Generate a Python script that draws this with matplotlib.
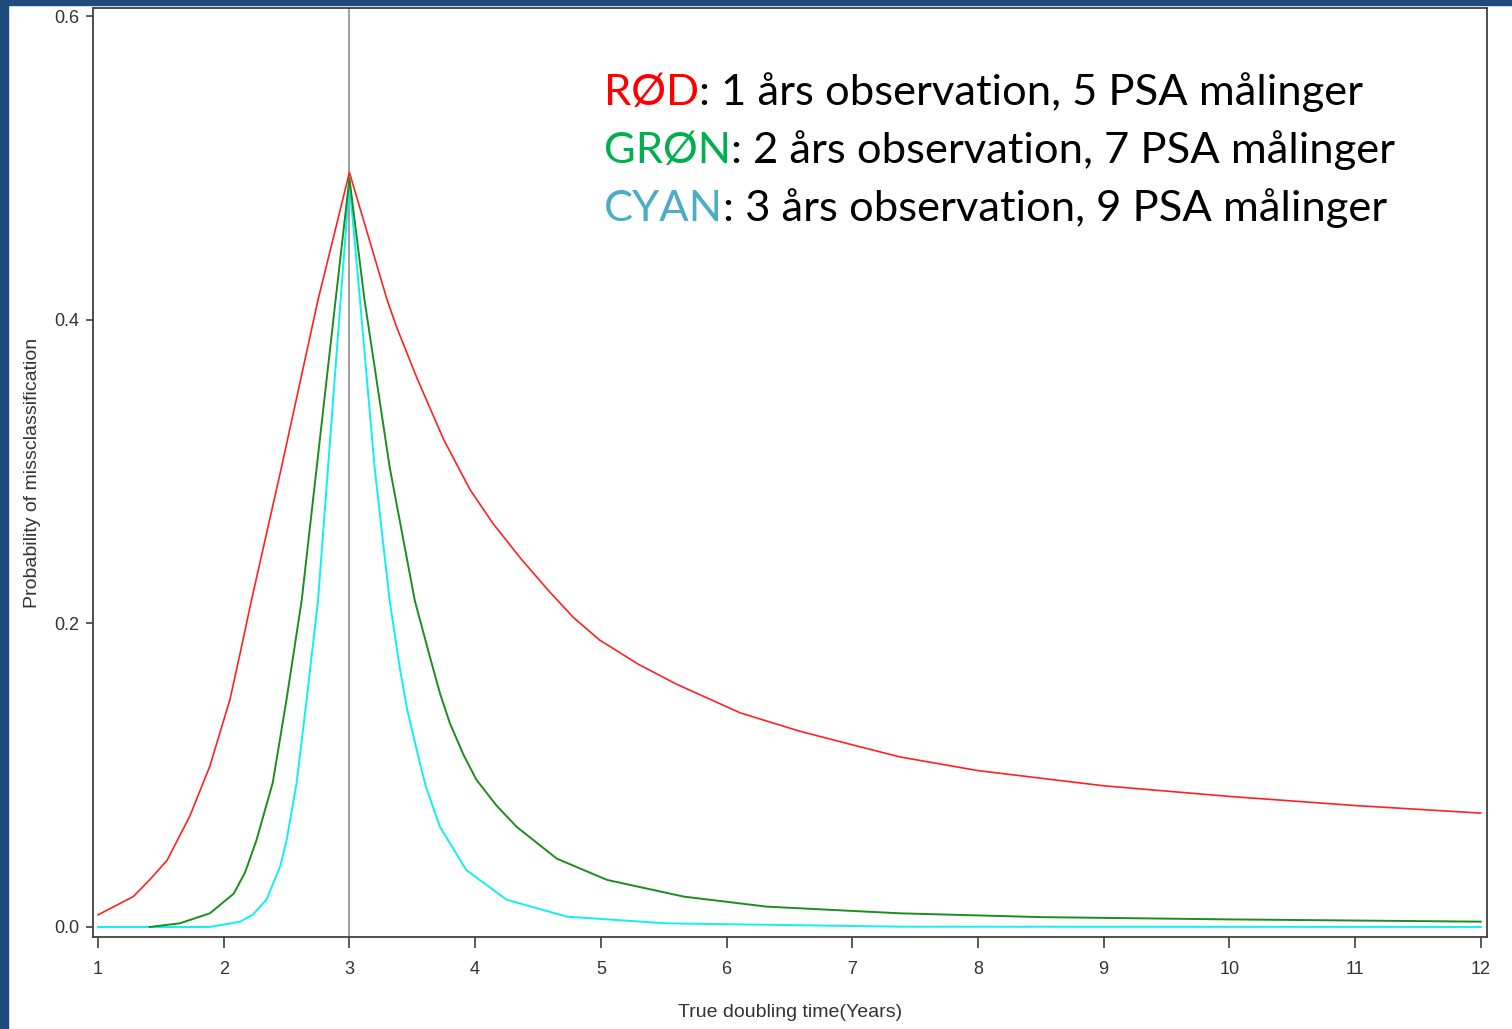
import matplotlib
matplotlib.use("Agg")
import matplotlib.pyplot as plt
from matplotlib.patches import Rectangle

# misclassification curves
red_x = [1.0, 1.28, 1.41, 1.55, 1.73, 1.89, 2.05, 2.135, 2.22, 2.46, 2.75, 3.0,
         3.30, 3.376, 3.535, 3.75, 3.96, 4.14, 4.37, 4.59, 4.78, 4.99, 5.30, 5.60,
         6.11, 6.58, 7.0, 7.38, 8.0, 9.0, 10.0, 11.0, 12.0]
red_y = [0.008, 0.020, 0.031, 0.044, 0.073, 0.106, 0.150, 0.182, 0.215, 0.303, 0.413, 0.497,
         0.413, 0.395, 0.362, 0.321, 0.288, 0.266, 0.242, 0.221, 0.204, 0.189, 0.173, 0.160,
         0.141, 0.129, 0.120, 0.112, 0.103, 0.093, 0.086, 0.080, 0.075]

green_x = [1.41, 1.65, 1.89, 2.08, 2.17, 2.26, 2.39, 2.50, 2.62, 2.74, 2.89, 3.0,
           3.12, 3.32, 3.52, 3.64, 3.72, 3.80, 3.91, 4.01, 4.17, 4.33, 4.65, 5.05,
           5.66, 6.32, 7.38, 8.5, 10.0, 12.0]
green_y = [0.0, 0.0024, 0.009, 0.022, 0.036, 0.057, 0.095, 0.150, 0.215, 0.303, 0.413, 0.493,
           0.413, 0.303, 0.215, 0.178, 0.154, 0.134, 0.113, 0.097, 0.080, 0.066, 0.045, 0.031,
           0.020, 0.0134, 0.009, 0.0065, 0.005, 0.0035]

cyan_x = [1.0, 1.89, 2.13, 2.23, 2.34, 2.45, 2.50, 2.58, 2.66, 2.75, 2.83, 2.93, 3.0,
          3.084, 3.20, 3.32, 3.40, 3.46, 3.56, 3.61, 3.72, 3.93, 4.25, 4.73,
          5.52, 7.38, 12.0]
cyan_y = [0.0, 0.0, 0.0035, 0.008, 0.018, 0.040, 0.057, 0.095, 0.150, 0.215, 0.303, 0.413, 0.490,
          0.413, 0.303, 0.215, 0.171, 0.143, 0.108, 0.092, 0.066, 0.0375, 0.018, 0.0068,
          0.0024, 0.0002, 0.0]

x_ticks = list(range(1, 13))
y_ticks = [0.0, 0.2, 0.4, 0.6]
y_tick_labels = ["0.0", "0.2", "0.4", "0.6"]
ref_x = 3.0

legend_heads = ["RØD", "GRØN", "CYAN"]
legend_head_colors = ["#ff0000", "#00b050", "#4bacc6"]
legend_tails = [": 1 års observation, 5 PSA målinger",
                ": 2 års observation, 7 PSA målinger",
                ": 3 års observation, 9 PSA målinger"]

fig = plt.figure(figsize=(15.12, 10.29), dpi=100, facecolor="white")

# slide frame in dark blue, left and top
fig.patches.append(Rectangle((0, 0), 8 / 1512, 1, transform=fig.transFigure,
                             color="#1e4a7c", zorder=0))
fig.patches.append(Rectangle((0, 1 - 5 / 1029), 1, 5 / 1029, transform=fig.transFigure,
                             color="#1e4a7c", zorder=0))

ax = fig.add_axes([93 / 1512, 1 - 937 / 1029, 1394 / 1512, 929 / 1029])

ax.axvline(ref_x, color="#909090", lw=1.2, zorder=1)
ax.plot(red_x, red_y, color="#ff2020", lw=1.2, zorder=3)
ax.plot(green_x, green_y, color="#1e8c1e", lw=1.4, zorder=3)
ax.plot(cyan_x, cyan_y, color="#10f0f0", lw=1.4, zorder=2)

ax.set_xlim(0.96, 12.05)
ax.set_ylim(-0.0066, 0.6053)
ax.set_xticks(x_ticks)
ax.set_yticks(y_ticks)
ax.set_yticklabels(y_tick_labels)

tick_font = "Liberation Sans"
ax.tick_params(axis="x", length=8, width=1.2, color="#404040", pad=9,
               labelsize=13, labelcolor="#333333")
ax.tick_params(axis="y", length=5, width=1.2, color="#404040", pad=5,
               labelsize=13, labelcolor="#333333")
for lab in ax.get_xticklabels() + ax.get_yticklabels():
    lab.set_family(tick_font)
for s in ax.spines.values():
    s.set_color("#404040")
    s.set_linewidth(1.3)

ax.set_xlabel("True doubling time(Years)", family=tick_font, fontsize=14,
              color="#333333", labelpad=19)
ax.set_ylabel("Probability of missclassification", family=tick_font, fontsize=14,
              color="#333333", labelpad=9)

# coloured legend lines at top right
line_y = [1 - 93 / 1029, 1 - 151 / 1029, 1 - 209 / 1029]
for head, col, tail, yy in zip(legend_heads, legend_head_colors, legend_tails, line_y):
    t = fig.text(604 / 1512, yy, head, color=col, family="Lato", fontsize=31.3,
                 va="center", ha="left")
    ax.annotate(tail, xy=(1, 0), xycoords=t, va="bottom", ha="left",
                color="black", family="Lato", fontsize=31.3, annotation_clip=False)

fig.savefig("out.png", dpi=100, facecolor="white")
